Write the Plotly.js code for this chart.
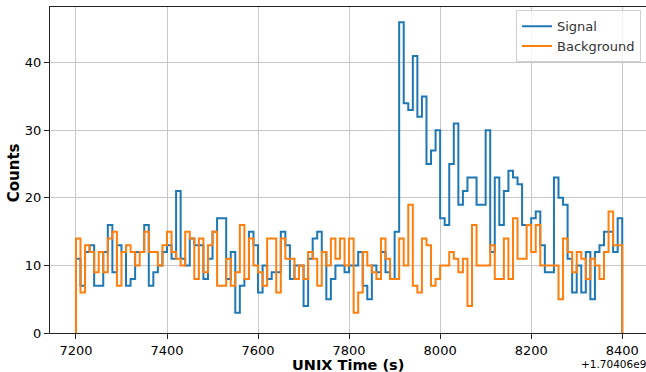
<!DOCTYPE html>
<html>
<head>
<meta charset="utf-8">
<script src="https://cdn.plot.ly/plotly-3.0.1.min.js"></script>
<style>
  html, body { margin: 0; padding: 0; background: #fff; overflow: hidden; width: 646px; height: 372px; }
  #chart { width: 656px; height: 372px; }
</style>
</head>
<body>
<div id="chart"></div>
<script>
// Time offset and binning (seconds, relative to +1.70406e9)
const timeOffsetLabel = "+1.70406e9";
const binStart = 7200;
const binWidth = 10;

// Counts per 10 s bin
const signalCounts = [
  11, 7, 12, 13, 7, 7, 12, 16, 9, 13,
  12, 7, 8, 12, 12, 16, 7, 9, 10, 12,
  13, 11, 21, 11, 10, 14, 13, 13, 8, 11,
  15, 17, 17, 8, 12, 3, 7, 8, 15, 13,
  6, 10, 8, 9, 9, 15, 13, 8, 10, 10,
  4, 11, 14, 15, 12, 5, 8, 10, 10, 9,
  10, 10, 12, 7, 5, 10, 9, 12, 9, 8,
  15, 46, 34, 33, 41, 32, 35, 25, 27, 30,
  17, 16, 25, 31, 19, 21, 23, 23, 19, 19,
  30, 12, 23, 16, 21, 24, 23, 22, 16, 16,
  17, 18, 13, 9, 9, 23, 20, 19, 11, 6,
  10, 6, 12, 5, 12, 13, 15, 15, 12, 17
];
const backgroundCounts = [
  14, 6, 13, 12, 9, 12, 9, 14, 15, 7,
  12, 13, 12, 10, 12, 15, 12, 12, 10, 13,
  15, 12, 11, 10, 15, 14, 8, 14, 9, 13,
  15, 7, 7, 11, 7, 9, 16, 8, 14, 10,
  9, 7, 14, 14, 6, 14, 11, 11, 8, 10,
  8, 12, 11, 7, 12, 10, 14, 11, 14, 10,
  14, 3, 6, 12, 10, 9, 8, 14, 11, 8,
  8, 14, 10, 19, 7, 6, 14, 13, 7, 8,
  10, 10, 12, 11, 9, 11, 4, 16, 10, 10,
  10, 13, 8, 8, 14, 8, 17, 11, 11, 16,
  12, 16, 10, 10, 10, 10, 5, 14, 12, 9,
  12, 11, 8, 11, 10, 8, 12, 18, 13, 13
];
const xTicks = [7200, 7400, 7600, 7800, 8000, 8200, 8400];
const yTicks = [0, 10, 20, 30, 40];

function stepTrace(counts, name, color) {
  const edges = counts.map((_, i) => binStart + i * binWidth);
  const last = binStart + counts.length * binWidth;
  const xs = [binStart].concat(edges, [last, last]);
  const ys = [0].concat(counts, [counts[counts.length - 1], 0]);
  return {
    x: xs, y: ys, type: 'scatter', mode: 'lines', name: name,
    line: { shape: 'hv', color: color, width: 2 },
    hoverinfo: 'skip'
  };
}

const data = [
  stepTrace(signalCounts, 'Signal', '#1f77b4'),
  stepTrace(backgroundCounts, 'Background', '#ff7f0e')
];

const font = "DejaVu Sans, sans-serif";
const layout = {
  width: 656, height: 372,
  margin: { l: 50, r: 6, t: 7, b: 39 },
  paper_bgcolor: '#fff', plot_bgcolor: '#fff',
  font: { family: font, size: 13, color: '#000' },
  showlegend: true,
  legend: {
    x: 0.985, y: 0.99, xanchor: 'right', yanchor: 'top',
    bgcolor: 'rgba(255,255,255,0.8)', bordercolor: '#d0d0d0', borderwidth: 1,
    font: { family: font, size: 13, color: '#333' },
    tracegroupgap: 0
  },
  xaxis: {
    range: [7143, 8461], tickvals: xTicks, ticktext: xTicks.map(String),
    showgrid: true, gridcolor: '#c8c8c8', gridwidth: 1,
    zeroline: false, showline: true, linecolor: '#222', linewidth: 1, mirror: true,
    ticks: 'outside', ticklen: 5, tickcolor: '#222', tickwidth: 1,
    tickfont: { family: font, size: 13, color: '#000' }
  },
  yaxis: {
    range: [0, 48.25], tickvals: yTicks, ticktext: yTicks.map(String),
    showgrid: true, gridcolor: '#c8c8c8', gridwidth: 1,
    zeroline: false, showline: true, linecolor: '#222', linewidth: 1, mirror: true,
    ticks: 'outside', ticklen: 5, tickcolor: '#222', tickwidth: 1,
    tickfont: { family: font, size: 13, color: '#000' }
  },
  annotations: [
    { text: '<b>UNIX Time (s)</b>', xref: 'paper', yref: 'paper', x: 0.497, y: 0,
      xanchor: 'center', yanchor: 'middle', yshift: -32, showarrow: false,
      font: { family: font, size: 14.5, color: '#000' } },
    { text: '<b>Counts</b>', xref: 'paper', yref: 'paper', x: 0, y: 0.49,
      xanchor: 'center', yanchor: 'middle', xshift: -36, textangle: -90, showarrow: false,
      font: { family: font, size: 15, color: '#000' } },
    { text: timeOffsetLabel, xref: 'paper', yref: 'paper', x: 0.997, y: 0,
      xanchor: 'right', yanchor: 'middle', yshift: -31, showarrow: false,
      font: { family: font, size: 10.5, color: '#000' } }
  ]
};

Plotly.newPlot('chart', data, layout, { displayModeBar: false, staticPlot: true });
</script>
</body>
</html>
